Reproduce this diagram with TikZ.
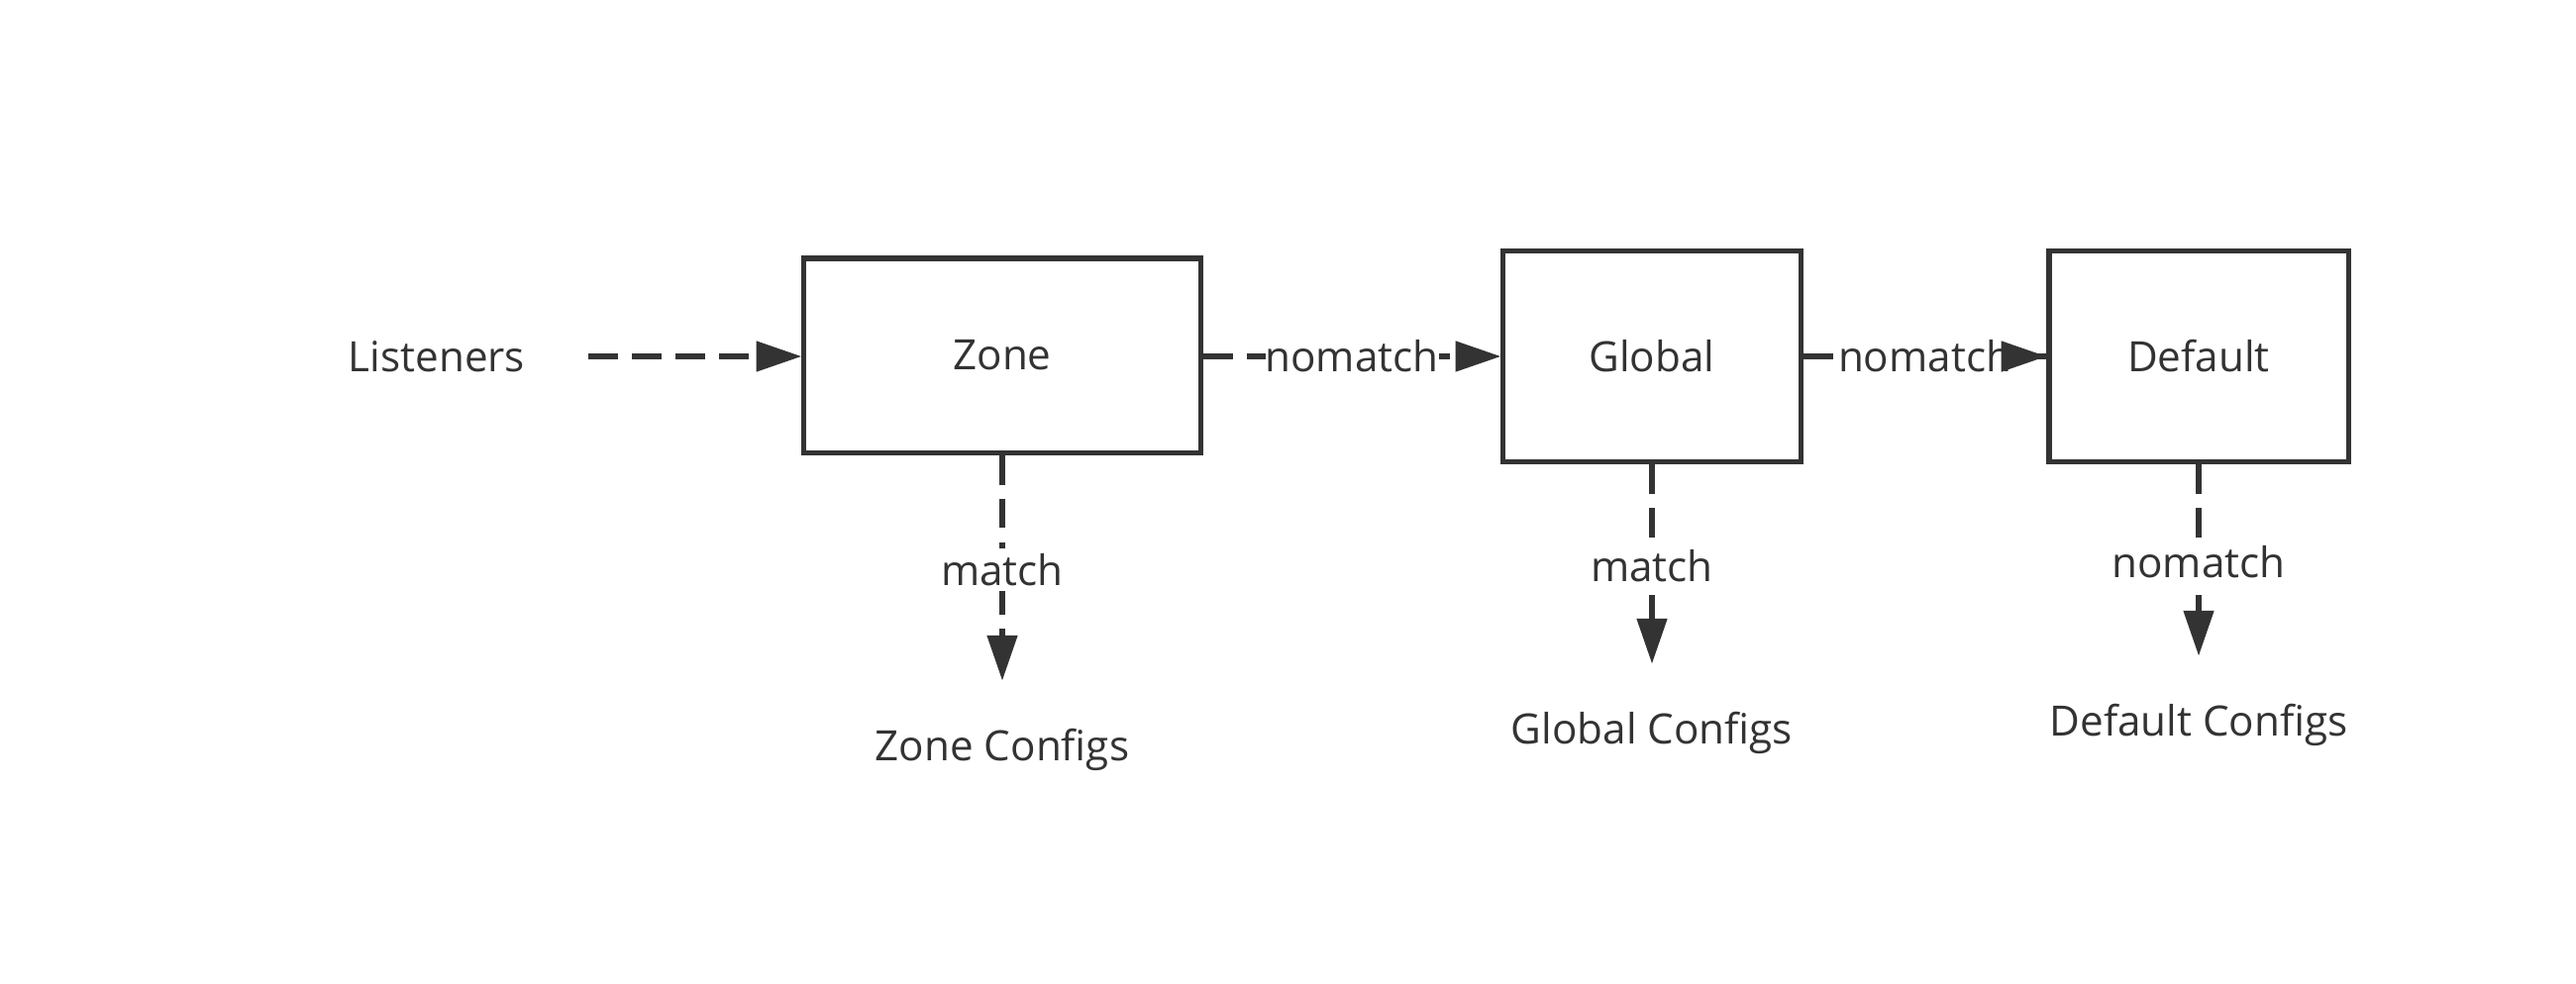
\documentclass[tikz,border=0pt]{standalone}
\usepackage{fontspec}
\setmainfont{Open Sans}
\usetikzlibrary{arrows.meta}
\definecolor{ink}{HTML}{333333}
\begin{document}
\begin{tikzpicture}[x=0.01cm,y=-0.01cm,
  every node/.style={font=\fontsize{12}{14}\selectfont, text=ink},
  box/.style={draw=ink, line width=1.45pt, inner sep=0pt},
  line/.style={draw=ink, line width=1.45pt, dash pattern=on 8.5pt off 4pt},
  flow/.style={line, -{Triangle[length=13pt,width=8.5pt]}},
  lbl/.style={fill=white, inner xsep=0pt, inner ysep=1.5pt},
  plain/.style={inner sep=0pt}]
\useasboundingbox (0,0) rectangle (2601,993);
\node[plain] (lis) at (441,360) {Listeners};
\node[box, minimum width=4cm, minimum height=1.96cm] (zone) at (1012,359) {Zone};
\node[box, minimum width=3cm, minimum height=2.13cm] (glob) at (1668,360) {Global};
\node[box, minimum width=3.02cm, minimum height=2.13cm] (def) at (2220,360) {Default};
\node[plain, anchor=north] (zc) at (1012,735) {Zone Configs};
\node[plain, anchor=north] (gc) at (1668,718) {Global Configs};
\node[plain, anchor=north] (dc) at (2220,710) {Default Configs};
\draw[flow, shorten <=18pt] (lis.east) -- (zone.west |- lis.east);
\draw[flow] (zone.east |- glob.west) -- node[lbl] {nomatch} (glob.west);
\draw[line] (glob.east) -- node[lbl] {nomatch} (def.west);
\draw[flow, solid, shorten <=60pt] (glob.east) -- (def.west);
\draw[flow, shorten >=13.5pt] (zone.south) -- node[lbl, pos=0.42] {match} (zc.north);
\draw[flow, shorten >=13.5pt] (glob.south) -- node[lbl, pos=0.41] {match} (gc.north);
\draw[flow, shorten >=13.5pt] (def.south) -- node[lbl, pos=0.41] {nomatch} (dc.north);
\end{tikzpicture}
\end{document}
